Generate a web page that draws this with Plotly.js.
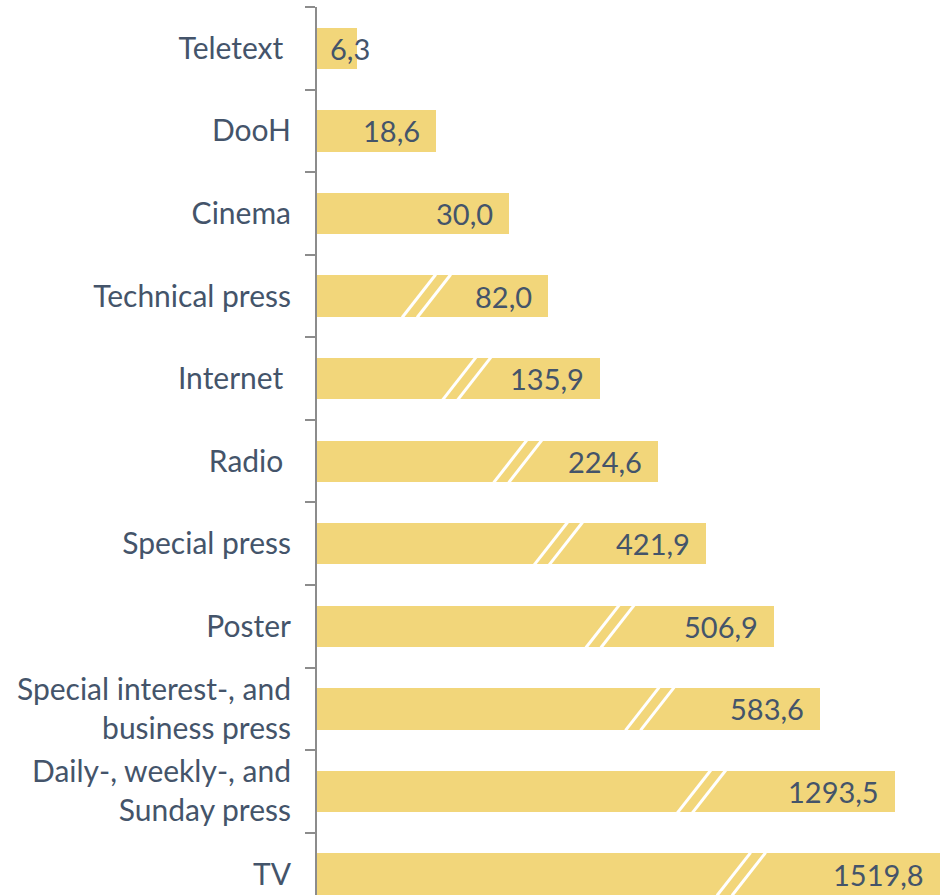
<!DOCTYPE html>
<html>
<head>
<meta charset="utf-8">
<script src="https://cdn.plot.ly/plotly-3.0.1.min.js"></script>
<style>html,body{margin:0;padding:0;background:#fff;}#chart{width:951px;height:895px;}</style>
</head>
<body>
<div id="chart"></div>
<script>
// Categories, top to bottom
const categories = [
  "Teletext ",
  "DooH",
  "Cinema",
  "Technical press",
  "Internet ",
  "Radio ",
  "Special press",
  "Poster",
  "Special interest-, and<br>business press",
  "Daily-, weekly-, and<br>Sunday press",
  "TV"
];
// Real values (shown as labels)
const values = [6.3, 18.6, 30.0, 82.0, 135.9, 224.6, 421.9, 506.9, 583.6, 1293.5, 1519.8];
// Values as drawn on the broken (truncated) axis
const plottedValues = [6.3, 18.6, 30.0, 36.1, 44.2, 53.3, 60.8, 71.4, 78.6, 90.3, 97.3];
// Where the axis break (double slash) sits on each bar, in plotted units (null = no break)
const breakAt = [null, null, null, 17.1, 23.4, 31.4, 37.7, 45.8, 52.0, 60.1, 66.3];

const textColor = "#44546A";
const barColor = "#F2D67A";
const fontFamily = "Lato, 'Open Sans', sans-serif";
const pxPerUnit = 6.4;

const idx = categories.map((_, i) => i);

const barTrace = {
  type: "bar",
  orientation: "h",
  x: plottedValues,
  y: idx,
  width: 0.5,
  marker: { color: barColor, line: { width: 0 } },
  hoverinfo: "skip"
};

// Break marks: two white slashes per broken bar
const sx = [], sy = [];
const half = 16.8 / pxPerUnit, gap = 7.5 / pxPerUnit;
breakAt.forEach((c, i) => {
  if (c === null) return;
  [-gap, gap].forEach(d => {
    sx.push(c + d - half, c + d + half, null);
    sy.push(i + 0.26, i - 0.26, null);
  });
});
const slashTrace = {
  type: "scatter",
  mode: "lines",
  x: sx,
  y: sy,
  line: { color: "#ffffff", width: 3 },
  hoverinfo: "skip"
};

const fmt = v => v.toFixed(1).replace(".", ",");
const annotations = values.map((v, i) => ({
  x: Math.max(plottedValues[i], 10.8),
  y: i,
  xref: "x",
  yref: "y",
  text: fmt(v),
  showarrow: false,
  xanchor: "right",
  yanchor: "middle",
  xshift: -14,
  font: { family: fontFamily, size: 29, color: textColor }
}));

const boundaries = [];
for (let i = 0; i <= categories.length; i++) boundaries.push(i - 0.5);

const layout = {
  width: 951,
  height: 895,
  margin: { l: 317, r: 0, t: 7, b: 0, pad: 0 },
  paper_bgcolor: "#ffffff",
  plot_bgcolor: "#ffffff",
  showlegend: false,
  hovermode: false,
  bargap: 0,
  xaxis: {
    range: [0, 634 / pxPerUnit],
    showgrid: false,
    zeroline: false,
    showticklabels: false,
    ticks: "",
    showline: false,
    fixedrange: true
  },
  yaxis: {
    range: [10.254, -0.5],
    tickvals: idx,
    ticktext: categories,
    ticks: "",
    showgrid: false,
    zeroline: false,
    showline: true,
    linecolor: "#8c8c8c",
    linewidth: 2,
    ticklabelstandoff: 18,
    tickfont: { family: fontFamily, size: 30, color: textColor },
    minor: {
      tickvals: boundaries,
      ticks: "outside",
      ticklen: 10,
      tickwidth: 2,
      tickcolor: "#8c8c8c",
      showgrid: false
    },
    fixedrange: true
  },
  annotations: annotations
};

Plotly.newPlot("chart", [barTrace, slashTrace], layout, { displayModeBar: false, staticPlot: true });
</script>
</body>
</html>
